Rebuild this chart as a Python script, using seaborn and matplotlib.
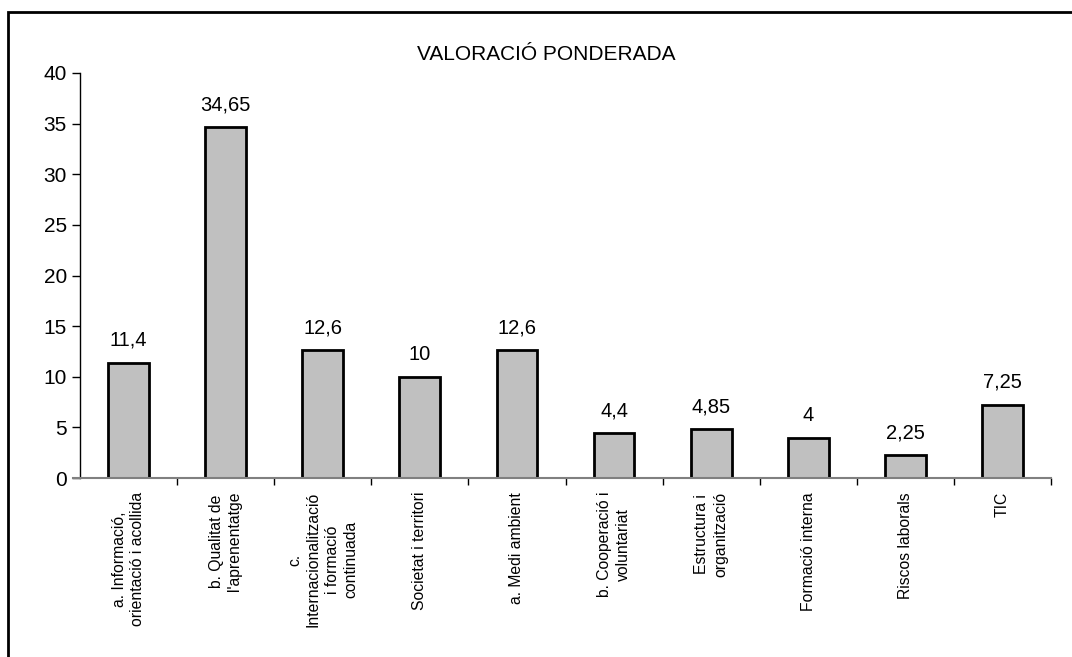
import matplotlib
matplotlib.use("Agg")
import matplotlib.pyplot as plt
import seaborn as sns
import pandas as pd
from matplotlib.patches import Rectangle

categories = [
    "a. Informació,\norientació i acollida",
    "b. Qualitat de\nl'aprenentatge",
    "c.\nInternacionalització\ni formació\ncontinuada",
    "Societat i territori",
    "a. Medi ambient",
    "b. Cooperació i\nvoluntariat",
    "Estructura i\norganització",
    "Formació interna",
    "Riscos laborals",
    "TIC",
]
values = [11.4, 34.65, 12.6, 10, 12.6, 4.4, 4.85, 4, 2.25, 7.25]
value_labels = ["11,4", "34,65", "12,6", "10", "12,6", "4,4", "4,85", "4", "2,25", "7,25"]
title = "VALORACIÓ PONDERADA"

sns.set_theme(style="white")
plt.rcParams["font.family"] = ["Liberation Sans", "DejaVu Sans"]
plt.rcParams["text.color"] = "black"
plt.rcParams["xtick.color"] = "black"
plt.rcParams["ytick.color"] = "black"

df = pd.DataFrame({"cat": categories, "val": values})

W, H = 1072, 657
fig = plt.figure(figsize=(W / 100, H / 100), dpi=100)
ax = fig.add_axes([80 / W, 1 - 478 / H, (1051 - 80) / W, (478 - 73) / H])

sns.barplot(data=df, x="cat", y="val", ax=ax, color="#c0c0c0",
            edgecolor="black", linewidth=2, width=0.42, saturation=1)

for i, (v, lab) in enumerate(zip(values, value_labels)):
    ax.annotate(lab, (i, v), xytext=(0, 12), textcoords="offset points",
                ha="center", va="baseline", fontsize=14.5, color="black")

ax.set_xlim(-0.5, len(categories) - 0.5)
ax.set_ylim(0, 40)
ax.set_yticks(range(0, 41, 5))
ax.set_xlabel("")
ax.set_ylabel("")

ax.set_xticks(range(len(categories)))
ax.set_xticklabels(categories, rotation=90, fontsize=11.3, va="top", ha="center",
                   multialignment="center", linespacing=1.3, color="black")
ax.tick_params(axis="x", length=0, pad=10)
ax.set_xticks([i + 0.5 for i in range(len(categories))], minor=True)
ax.tick_params(axis="x", which="minor", length=5, width=1, color="black",
               direction="out", bottom=True)
ax.tick_params(axis="y", length=6, width=1, color="black", direction="out",
               left=True, labelsize=15, pad=3.5, labelcolor="black")

for s in ["top", "right"]:
    ax.spines[s].set_visible(False)
ax.spines["left"].set_color("black")
ax.spines["left"].set_linewidth(1)
ax.spines["bottom"].set_color("#808080")
ax.spines["bottom"].set_linewidth(1.5)
ax.spines["bottom"].set_bounds(-0.57, len(categories) - 0.5)

fig.text(546 / W, 1 - 55 / H, title, ha="center", va="center", fontsize=15,
         color="black")

fig.patches.append(Rectangle((8 / W, -0.05), 1.1, 1 - 12 / H + 0.05,
                             transform=fig.transFigure, fill=False,
                             edgecolor="black", linewidth=2))

fig.savefig("out.png", dpi=100)
